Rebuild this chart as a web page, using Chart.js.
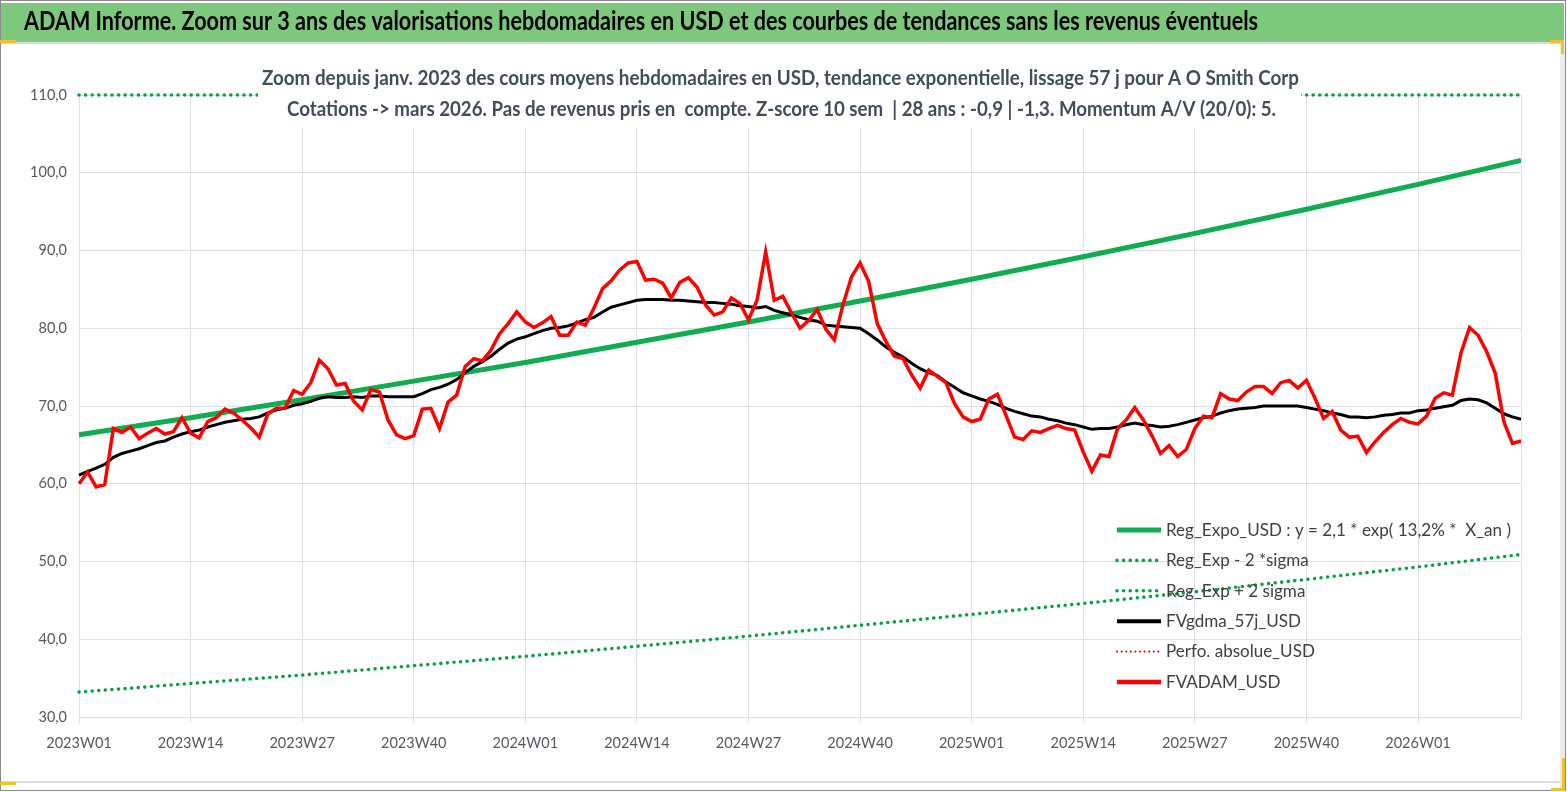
<!DOCTYPE html>
<html lang="fr">
<head>
<meta charset="utf-8">
<title>ADAM Informe - A O Smith Corp</title>
<script src="https://cdn.jsdelivr.net/npm/chart.js"></script>
<style>
  html, body { margin: 0; padding: 0; background: #fff; overflow: hidden; }
  #wrap { position: relative; width: 1567px; height: 792px; }
</style>
</head>
<body>
<div id="wrap"><canvas id="graphique"></canvas></div>
<script>
// semaines ISO affichées (2023W01 -> 2026W13)
const semaines = [];
for (const an of [2023, 2024, 2025]) {
  for (let s = 1; s <= 52; s++) semaines.push(an + 'W' + String(s).padStart(2, '0'));
}
for (let s = 1; s <= 13; s++) semaines.push('2026W' + String(s).padStart(2, '0'));

// points d'ancrage des courbes de tendance (toutes les 13 semaines + fin)
const semainesTendance = ['2023W01', '2023W14', '2023W27', '2023W40', '2024W01', '2024W14', '2024W27',
  '2024W40', '2025W01', '2025W14', '2025W27', '2025W40', '2026W01', '2026W13'];

const regExpo = [66.3, 68.5, 70.8, 73.2, 75.6, 78.2, 80.8, 83.5, 86.3, 89.2, 92.2, 95.3, 98.5, 101.6];
const regExpMoins2Sigma = [33.2, 34.3, 35.4, 36.6, 37.8, 39.1, 40.4, 41.8, 43.2, 44.6, 46.1, 47.7, 49.3, 50.9];
const regExpPlus2Sigma = [110, 110, 110, 110, 110, 110, 110, 110, 110, 110, 110, 110, 110, 110];

const fvgdma57j = [
  61.1, 61.6, 62.0, 62.5, 63.4, 63.9, 64.2, 64.5, 64.9, 65.3, 65.5, 66.0, 66.4,
  66.7, 66.9, 67.3, 67.6, 67.9, 68.1, 68.3, 68.4, 68.6, 69.1, 69.5, 69.7, 70.1,
  70.3, 70.6, 71.0, 71.2, 71.1, 71.1, 71.2, 71.1, 71.3, 71.3, 71.2, 71.2, 71.2,
  71.2, 71.6, 72.1, 72.4, 72.8, 73.4, 74.3, 75.1, 75.7, 76.4, 77.3, 78.1, 78.6,
  78.9, 79.3, 79.7, 80.0, 80.1, 80.3, 80.7, 81.1, 81.4, 82.1, 82.7, 83.0, 83.3,
  83.6, 83.7, 83.7, 83.7, 83.6, 83.6, 83.5, 83.4, 83.3, 83.3, 83.2, 83.1, 82.9,
  82.8, 82.6, 82.8, 82.3, 82.0, 81.7, 81.4, 81.1, 80.9, 80.4, 80.3, 80.2, 80.1,
  80.0, 79.3, 78.5, 77.6, 76.9, 76.3, 75.5, 74.8, 74.3, 73.9, 73.1, 72.4, 71.7,
  71.3, 70.9, 70.6, 70.2, 69.7, 69.3, 69.0, 68.7, 68.6, 68.3, 68.1, 67.8, 67.6,
  67.3, 67.0, 67.1, 67.1, 67.3, 67.6, 67.8, 67.6, 67.5, 67.3, 67.4, 67.6, 67.9,
  68.2, 68.5, 68.7, 69.1, 69.4, 69.6, 69.7, 69.8, 70.0, 70.0, 70.0, 70.0, 70.0,
  69.8, 69.6, 69.4, 69.1, 68.9, 68.6, 68.6, 68.5, 68.6, 68.8, 68.9, 69.1, 69.1,
  69.4, 69.5, 69.7, 69.9, 70.1, 70.7, 70.9, 70.8, 70.4, 69.7, 69.0, 68.6, 68.3
];

const fvadam = [
  60.0, 61.5, 59.6, 59.9, 67.1, 66.6, 67.3, 65.8, 66.5, 67.1, 66.4, 66.7, 68.5,
  66.5, 65.9, 68.0, 68.5, 69.6, 69.1, 68.2, 67.2, 66.0, 69.0, 69.7, 69.7, 72.0,
  71.5, 73.0, 75.9, 74.8, 72.7, 72.9, 70.6, 69.5, 72.1, 71.8, 68.2, 66.3, 65.8,
  66.2, 69.6, 69.7, 67.1, 70.5, 71.4, 75.1, 76.1, 75.8, 77.2, 79.3, 80.6, 82.1,
  80.8, 80.1, 80.7, 81.5, 79.1, 79.1, 80.8, 80.4, 82.6, 85.1, 86.1, 87.5, 88.4,
  88.6, 86.2, 86.3, 85.8, 83.9, 85.9, 86.5, 85.3, 83.0, 81.7, 82.1, 83.9, 83.2,
  81.1, 83.6, 89.8, 83.6, 84.1, 82.0, 80.0, 81.0, 82.4, 79.9, 78.5, 83.0, 86.6,
  88.4, 86.0, 80.6, 78.3, 76.4, 76.1, 74.0, 72.3, 74.6, 73.8, 73.0, 70.3, 68.6,
  68.0, 68.3, 70.9, 71.5, 68.8, 66.0, 65.7, 66.8, 66.6, 67.1, 67.5, 67.1, 66.9,
  64.1, 61.6, 63.7, 63.5, 67.1, 68.2, 69.8, 68.2, 66.2, 63.9, 64.9, 63.5, 64.4,
  67.1, 68.7, 68.5, 71.6, 70.9, 70.7, 71.8, 72.5, 72.5, 71.6, 73.0, 73.3, 72.3,
  73.3, 71.0, 68.4, 69.3, 66.9, 66.0, 66.1, 64.0, 65.4, 66.6, 67.6, 68.4, 67.9,
  67.7, 68.7, 71.0, 71.7, 71.4, 76.8, 80.1, 79.1, 77.0, 74.2, 68.0, 65.2, 65.5
];

const perfoAbsolue = []; // série sans valeur visible dans la fenêtre

const titreHaut = 'ADAM Informe. Zoom sur 3 ans des valorisations hebdomadaires en USD et des courbes de tendances sans les revenus éventuels';
const titre1 = 'Zoom depuis janv. 2023 des cours moyens hebdomadaires en USD, tendance exponentielle, lissage 57 j pour A O Smith Corp';
const titre2 = 'Cotations -> mars 2026. Pas de revenus pris en  compte. Z-score 10 sem  | 28 ans : -0,9 | -1,3. Momentum A/V (20/0): 5.';

const couleurGrille = '#dde1e7';
const vert = '#10ac50';
const vertPointille = '#06a048';

function texteAjuste(ctx, texte, x, y, largeur, police, couleur) {
  ctx.save();
  ctx.font = police;
  const w = ctx.measureText(texte).width;
  ctx.translate(x, y);
  ctx.scale(largeur / w, 1);
  ctx.fillStyle = couleur;
  ctx.textBaseline = 'middle';
  ctx.textAlign = 'left';
  ctx.fillText(texte, 0, 0);
  ctx.restore();
}

// cadre, bandeau vert et poignées
const cadre = {
  id: 'cadre',
  beforeDraw(chart) {
    const ctx = chart.ctx;
    ctx.save();
    ctx.fillStyle = '#ffffff';
    ctx.fillRect(0, 0, 1567, 792);
    ctx.fillStyle = '#7dc87c';
    ctx.fillRect(1, 3, 1563, 39);
    ctx.fillStyle = '#dcdcdc';
    ctx.fillRect(0, 42, 1564, 2);
    ctx.fillRect(0, 781, 1561, 2);
    ctx.fillStyle = '#ececec';
    ctx.fillRect(1560, 44, 5, 747);
    ctx.strokeStyle = '#8a8a8a';
    ctx.lineWidth = 1;
    ctx.strokeRect(0.5, 0.5, 1565, 790);
    ctx.fillStyle = '#f0c030';
    ctx.fillRect(0, 40, 16, 3);
    ctx.fillRect(1550, 40, 14, 3);
    ctx.fillRect(1561, 40, 3, 14);
    ctx.fillRect(0, 782, 16, 3);
    ctx.fillRect(1551, 788, 14, 3);
    ctx.fillRect(1562, 758, 3, 33);
    ctx.restore();
    texteAjuste(ctx, titreHaut, 24, 22, 1234, 'bold 26px Lato', '#000000');
  }
};

// bloc de titre dans la zone de tracé
const blocTitre = {
  id: 'blocTitre',
  afterDatasetsDraw(chart) {
    const ctx = chart.ctx;
    ctx.save();
    ctx.fillStyle = '#ffffff';
    ctx.fillRect(258, 58, 1043, 70);
    ctx.restore();
    texteAjuste(ctx, titre1, 262, 78, 1037, 'bold 21px Lato', '#424c5b');
    texteAjuste(ctx, titre2, 287, 109, 989, 'bold 21px Lato', '#424c5b');
    const a = chart.chartArea;
    ctx.save();
    ctx.strokeStyle = couleurGrille;
    ctx.lineWidth = 1;
    ctx.beginPath();
    ctx.moveTo(a.right + 0.5, a.top);
    ctx.lineTo(a.right + 0.5, a.bottom);
    ctx.stroke();
    ctx.restore();
  }
};

// légende dessinée dans la zone de tracé
const legendeInterne = {
  id: 'legendeInterne',
  afterDraw(chart) {
    const ctx = chart.ctx;
    const police = '18px Lato';
    ctx.save();
    ctx.font = police;
    const sx = 345 / ctx.measureText(chart.data.datasets[0].label).width;
    chart.data.datasets.forEach((ds, i) => {
      const y = 530 + i * 30.4;
      ctx.save();
      ctx.strokeStyle = ds.borderColor;
      ctx.lineWidth = ds.legendWidth;
      ctx.lineCap = ds.borderDash ? 'round' : 'butt';
      ctx.setLineDash(ds.borderDash || []);
      ctx.beginPath();
      ctx.moveTo(1117, y);
      ctx.lineTo(1161, y);
      ctx.stroke();
      ctx.restore();
      ctx.save();
      ctx.font = police;
      ctx.translate(1166, y);
      ctx.scale(sx, 1);
      ctx.fillStyle = '#404040';
      ctx.textBaseline = 'middle';
      ctx.fillText(ds.label, 0, 0);
      ctx.restore();
    });
    ctx.restore();
  }
};

const tendance = (valeurs) => semainesTendance.map((s, k) => ({ x: s, y: valeurs[k] }));

new Chart(document.getElementById('graphique'), {
  type: 'line',
  data: {
    labels: semaines,
    datasets: [
      {
        label: 'Reg_Expo_USD : y = 2,1 * exp( 13,2% *  X_an )',
        data: tendance(regExpo),
        borderColor: vert, borderWidth: 5, legendWidth: 5, order: 6
      },
      {
        label: 'Reg_Exp - 2 *sigma',
        data: tendance(regExpMoins2Sigma),
        borderColor: vertPointille, borderWidth: 3.6, legendWidth: 3.6,
        borderDash: [0, 6.6], borderCapStyle: 'round', order: 5
      },
      {
        label: 'Reg_Exp + 2 sigma',
        data: tendance(regExpPlus2Sigma),
        borderColor: vertPointille, borderWidth: 3.6, legendWidth: 3.6,
        borderDash: [0, 6.6], borderCapStyle: 'round', order: 4, clip: false
      },
      {
        label: 'FVgdma_57j_USD',
        data: fvgdma57j,
        borderColor: '#000000', borderWidth: 3, legendWidth: 4, order: 3
      },
      {
        label: 'Perfo. absolue_USD',
        data: perfoAbsolue,
        borderColor: '#e81010', borderWidth: 2.2, legendWidth: 2.2,
        borderDash: [0, 4.6], borderCapStyle: 'round', order: 2
      },
      {
        label: 'FVADAM_USD',
        data: fvadam,
        borderColor: '#ff0000', borderWidth: 3.5, legendWidth: 4.5, order: 1
      }
    ]
  },
  options: {
    responsive: true,
    maintainAspectRatio: false,
    animation: false,
    layout: { padding: { left: 0, top: 95, right: 46, bottom: 0 } },
    elements: { point: { radius: 0 }, line: { tension: 0 } },
    plugins: {
      legend: { display: false },
      tooltip: { enabled: false }
    },
    scales: {
      x: {
        afterFit: (s) => { s.height = 75; },
        grid: {
          color: (c) => (c.index % 13 === 0 ? couleurGrille : 'rgba(0,0,0,0)'),
          tickLength: 6,
          drawTicks: true
        },
        border: { color: couleurGrille },
        ticks: {
          autoSkip: false,
          maxRotation: 0,
          padding: 12,
          color: '#555a60',
          font: { family: 'Lato', size: 14.5 },
          callback: function (v, i) { return i % 13 === 0 ? this.getLabelForValue(v) : ''; }
        }
      },
      y: {
        min: 30,
        max: 110,
        afterFit: (s) => { s.width = 79; },
        grid: { color: couleurGrille, drawTicks: false },
        border: { color: couleurGrille },
        ticks: {
          stepSize: 10,
          padding: 12,
          color: '#555a60',
          font: { family: 'Lato', size: 14.5 },
          callback: (v) => v.toFixed(1).replace('.', ',')
        }
      }
    }
  },
  plugins: [cadre, blocTitre, legendeInterne]
});
</script>
</body>
</html>
